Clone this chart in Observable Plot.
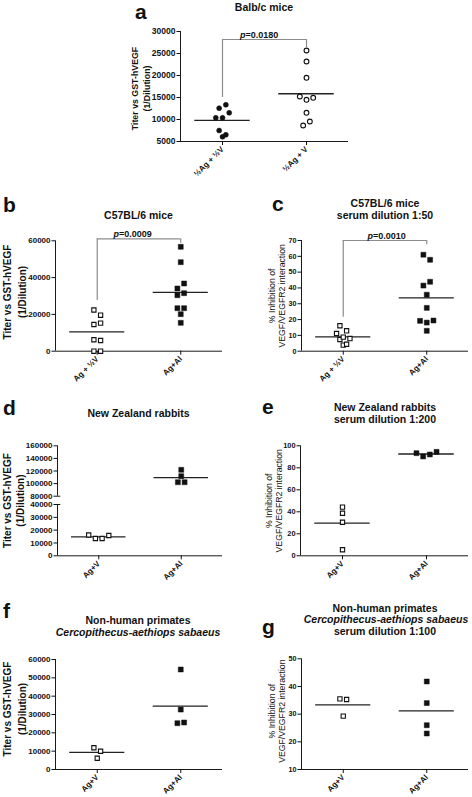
<!DOCTYPE html>
<html><head><meta charset="utf-8">
<script src="https://cdn.jsdelivr.net/npm/d3@7"></script>
<script src="https://cdn.jsdelivr.net/npm/@observablehq/plot@0.6"></script>
<style>
body{margin:0;background:#fff;}
#root{position:relative;width:472px;height:797px;overflow:hidden;background:#fff;}
</style></head><body><div id="root"></div>
<script>
// ---------------- data ----------------
const groupsA = ["½Ag + ½V", "½Ag + V"];
const a1 = [12570, 13340, 10380, 10380, 11520, 7500, 6070, 6520];
const a2 = [25680, 23180, 19480, 15230, 14480, 14930, 11520, 8640, 9550];
const ticksA = [5000, 10000, 15000, 20000, 25000, 30000];

const groupsBC = ["Ag + ½V", "Ag+Al"];
const b1 = [22390, 19565, 14510, 15220, 6200, 5815, 0, 0];
const b2 = [56740, 48370, 34080, 36790, 30430, 31520, 23370, 23370, 20110, 15430];
const ticksB = [0, 20000, 40000, 60000];

const c1 = [16.1, 11.2, 12.9, 7.4, 8.9, 8.0, 3.8, 4.4];
const c2 = [61.0, 57.8, 41.5, 43.9, 35.7, 27.4, 19.2, 18.1, 19.4, 12.9];
const ticksC = [0, 10, 20, 30, 40, 50, 60, 70];

const groupsDG = ["Ag+V", "Ag+Al"];
const d1 = [16200, 13500, 13500, 15800];
const d2 = [121900, 111750, 102200, 102200];
const ticksDTop = [80000, 100000, 120000, 140000, 160000];
const ticksDBottom = [0, 10000, 20000, 30000, 40000];

const e1 = [38.7, 44.2, 30.5, 5.5];
const e2 = [93.3, 90.3, 92.1, 94.5];
const ticksE = [0, 20, 40, 60, 80, 100];

const f1 = [11840, 9980, 6160];
const f2 = [54550, 32700, 25250, 25640];
const ticksF = [0, 10000, 20000, 30000, 40000, 50000, 60000];

const g1 = [35.5, 35.3, 29.3];
const g2 = [41.8, 34.0, 26.0, 23.0];
const ticksG = [10, 20, 30, 40, 50];

const pValues = {a: "=0.0180", b: "=0.0009", c: "=0.0010"};
const titleLabel = "Titer vs GST-hVEGF\n(1/Dilution)";
const inhibLabel = "% Inhibition of\nVEGF/VEGFR2 interaction";

// ---------------- helpers ----------------
const FONT = "'Liberation Sans', Arial, Helvetica, sans-serif";
const root = document.getElementById("root");
const STEP = 6.7;

function offsets(values, pxPerUnit) {
  const idx = d3.range(values.length).sort((i, j) => values[j] - values[i]);
  const off = new Array(values.length).fill(0);
  let k = 0;
  while (k < idx.length) {
    const start = values[idx[k]];
    let m = k + 1;
    while (m < idx.length && (start - values[idx[m]]) * pxPerUnit < 5.3) m++;
    const cl = idx.slice(k, m).sort((p, q) => p - q);
    cl.forEach((i, n) => off[i] = (n - (cl.length - 1) / 2) * STEP);
    k = m;
  }
  return off;
}

const OPEN_SQ = {symbol: "square", r: 2.4, fill: "white", sw: 1.1};
const FILL_SQ = {symbol: "square", r: 2.8, fill: "#111", sw: 0.5};
const OPEN_CI = {symbol: "circle", r: 2.4, fill: "white", sw: 1.1};
const FILL_CI = {symbol: "circle", r: 2.5, fill: "#111", sw: 0.5};

function makePanel(c) {
  const mL = c.fx0 - c.left, mR = c.left + c.width - c.fx1;
  const mT = c.fy0 - c.top, mB = c.top + c.height - c.fy1;
  const pxX = (c.fx1 - c.fx0) / 2;
  const pxY = (c.fy1 - c.fy0) / (c.yDomain[1] - c.yDomain[0]);
  const marks = [];
  marks.push(Plot.ruleX([-0.5], {stroke: "#1a1a1a", strokeWidth: 1}));
  marks.push(Plot.axisY({ticks: c.yTicks, tickFormat: d3.format("d"), tickSize: 3.5, tickPadding: 1.5,
    fontSize: c.tickFont, fontWeight: "bold", label: null}));
  if (c.showX) {
    marks.push(Plot.ruleY([c.yDomain[0]], {stroke: "#1a1a1a", strokeWidth: 1}));
    marks.push(Plot.axisX({ticks: [0, 1], tickFormat: i => c.groups[i], tickRotate: -45, tickSize: 4,
      tickPadding: 2.5, fontSize: 8, fontWeight: "bold", label: null}));
  }
  if (c.stubs) {
    marks.push(Plot.ruleY(c.stubs.map(y => ({y, x1: -0.5, x2: -0.46})), {y: "y", x1: "x1", x2: "x2", stroke: "#1a1a1a", strokeWidth: 1}));
  }
  c.series.forEach((vals, gi) => {
    if (!vals.length) return;
    const off = offsets(vals, pxY);
    const rows = vals.map((v, i) => ({x: gi + off[i] / pxX, y: v}));
    const st = c.styles[gi];
    marks.push(Plot.ruleY([{g: gi, m: d3.mean(vals)}], {y: "m", x1: d => d.g - 0.33, x2: d => d.g + 0.33, stroke: "#222", strokeWidth: 1.3}));
    marks.push(Plot.dot(rows, {x: "x", y: "y", symbol: st.symbol, r: st.r, fill: st.fill, stroke: "#111", strokeWidth: st.sw}));
  });
  if (c.bracket) {
    const b = c.bracket;
    marks.push(Plot.ruleY([{y: b.top, x1: 0, x2: 1}], {y: "y", x1: "x1", x2: "x2", stroke: "#8c8c8c", strokeWidth: 1.2}));
    marks.push(Plot.ruleX([{x: 0, y1: b.left, y2: b.top}, {x: 1, y1: b.right, y2: b.top}], {x: "x", y1: "y1", y2: "y2", stroke: "#8c8c8c", strokeWidth: 1.2}));
    marks.push(Plot.text([{x: b.tx, y: b.top, t: "p"}], {x: "x", y: "y", text: "t", textAnchor: "end", lineAnchor: "bottom", dy: -1.5, fontSize: 9, fontWeight: "bold", fontStyle: "italic"}));
    marks.push(Plot.text([{x: b.tx, y: b.top, t: b.text}], {x: "x", y: "y", text: "t", textAnchor: "start", lineAnchor: "bottom", dy: -1.5, fontSize: 9, fontWeight: "bold"}));
  }
  if (c.yLabel) {
    marks.push(Plot.text([c.yLabel], {frameAnchor: "left", rotate: -90, dx: c.ldx, dy: c.ldy, fontSize: c.lsize,
      fontWeight: c.lweight, lineHeight: c.lh, textAnchor: "middle", lineAnchor: "middle"}));
  }
  const svg = Plot.plot({
    width: c.width, height: c.height,
    marginLeft: mL, marginRight: mR, marginTop: mT, marginBottom: mB,
    x: c.showX ? {domain: [-0.5, 1.5]} : {domain: [-0.5, 1.5], axis: null},
    y: {domain: c.yDomain},
    style: {background: "transparent", overflow: "visible", fontFamily: FONT, color: "#111"},
    marks
  });
  svg.style.position = "absolute";
  svg.style.left = c.left + "px";
  svg.style.top = c.top + "px";
  root.appendChild(svg);
}

function label(str, cx, baseline, size, opts = {}) {
  const d = document.createElement("div");
  d.textContent = str;
  Object.assign(d.style, {position: "absolute", fontFamily: FONT, fontSize: size + "px", lineHeight: size + "px",
    fontWeight: opts.weight || "bold", fontStyle: opts.italic ? "italic" : "normal", whiteSpace: "nowrap",
    color: "#111", top: (baseline - 0.8465 * size) + "px"});
  if (opts.left != null) d.style.left = opts.left + "px";
  else { d.style.left = (cx - 200) + "px"; d.style.width = "400px"; d.style.textAlign = "center"; }
  root.appendChild(d);
}

// ---------------- panels ----------------
// a
makePanel({left: 0, top: 0, width: 472, height: 188, fx0: 180, fx1: 348, fy0: 31, fy1: 141,
  yDomain: [5000, 30000], yTicks: ticksA, tickFont: 8.5, showX: true, groups: groupsA,
  series: [a1, a2], styles: [FILL_CI, OPEN_CI],
  bracket: {top: 28180, left: 15000, right: 26360, tx: 0.274, text: pValues.a},
  yLabel: titleLabel, ldx: -40, ldy: 2, lsize: 8.8, lweight: "bold", lh: 1.35});
// b
makePanel({left: 0, top: 188, width: 240, height: 202, fx0: 55, fx1: 222, fy0: 240.3, fy1: 350.7,
  yDomain: [0, 60000], yTicks: ticksB, tickFont: 8, showX: true, groups: groupsBC,
  series: [b1, b2], styles: [OPEN_SQ, FILL_SQ],
  bracket: {top: 61000, left: 27500, right: 58700, tx: 0.26, text: pValues.b},
  yLabel: titleLabel, ldx: -41.5, ldy: -4, lsize: 10, lweight: "bold", lh: 1.45});
// c
makePanel({left: 240, top: 188, width: 232, height: 202, fx0: 301, fx1: 468, fy0: 240, fy1: 350.7,
  yDomain: [0, 70], yTicks: ticksC, tickFont: 7.2, showX: true, groups: groupsBC,
  series: [c1, c2], styles: [OPEN_SQ, FILL_SQ],
  bracket: {top: 70, left: 21.5, right: 67.3, tx: 0.356, text: pValues.c},
  yLabel: inhibLabel, ldx: -24.5, ldy: 0, lsize: 8.7, lweight: "normal", lh: 1.15});
// d top segment
makePanel({left: 0, top: 390, width: 240, height: 110, fx0: 57, fx1: 222, fy0: 445.3, fy1: 495.7,
  yDomain: [80000, 160000], yTicks: ticksDTop, tickFont: 8, showX: false, groups: groupsDG,
  series: [[], d2], styles: [OPEN_SQ, FILL_SQ], stubs: [80000]});
// d bottom segment
makePanel({left: 0, top: 500, width: 240, height: 95, fx0: 57, fx1: 222, fy0: 504, fy1: 555.3,
  yDomain: [0, 40000], yTicks: ticksDBottom, tickFont: 8, showX: true, groups: groupsDG,
  series: [d1, []], styles: [OPEN_SQ, FILL_SQ], stubs: [40000],
  yLabel: titleLabel, ldx: -44.5, ldy: -29.6, lsize: 10, lweight: "bold", lh: 1.35});
// e
makePanel({left: 240, top: 390, width: 232, height: 205, fx0: 300, fx1: 468, fy0: 445.3, fy1: 555.3,
  yDomain: [0, 100], yTicks: ticksE, tickFont: 7.4, showX: true, groups: groupsDG,
  series: [e1, e2], styles: [OPEN_SQ, FILL_SQ],
  yLabel: inhibLabel, ldx: -26.5, ldy: 0, lsize: 8.7, lweight: "normal", lh: 1.15});
// f
makePanel({left: 0, top: 595, width: 240, height: 202, fx0: 55, fx1: 222, fy0: 659, fy1: 769,
  yDomain: [0, 60000], yTicks: ticksF, tickFont: 8, showX: true, groups: groupsDG,
  series: [f1, f2], styles: [OPEN_SQ, FILL_SQ],
  yLabel: titleLabel, ldx: -41.5, ldy: -5.5, lsize: 10, lweight: "bold", lh: 1.45});
// g
makePanel({left: 240, top: 595, width: 232, height: 202, fx0: 301, fx1: 468, fy0: 658.3, fy1: 769,
  yDomain: [10, 50], yTicks: ticksG, tickFont: 7.2, showX: true, groups: groupsDG,
  series: [g1, g2], styles: [OPEN_SQ, FILL_SQ],
  yLabel: inhibLabel, ldx: -24.5, ldy: -3, lsize: 8.7, lweight: "normal", lh: 1.15});

// ---------------- titles and panel letters ----------------
const T = 10.5;
label("Balb/c mice", 264, 10.5, T);
label("C57BL/6 mice", 138.5, 218.7, T);
label("C57BL/6 mice", 385, 207, T);
label("serum dilution 1:50", 385, 218.5, T);
label("New Zealand rabbits", 138.5, 417.3, T);
label("New Zealand rabbits", 385, 410.7, T);
label("serum dilution 1:200", 385, 422.7, T);
label("Non-human primates", 138, 624, T);
label("Cercopithecus-aethiops sabaeus", 138, 635.5, T, {italic: true});
label("Non-human primates", 385, 611.7, T);
label("Cercopithecus-aethiops sabaeus", 386, 623.3, T, {italic: true});
label("serum dilution 1:100", 385, 635.3, T);

const L = 21;
label("a", 0, 18.5, L, {left: 135});
label("b", 0, 211.7, L, {left: 3});
label("c", 0, 211, L, {left: 272});
label("d", 0, 415, L, {left: 3});
label("e", 0, 414, L, {left: 262});
label("f", 0, 618, L, {left: 3});
label("g", 0, 634, L, {left: 262});
</script>
</body></html>
